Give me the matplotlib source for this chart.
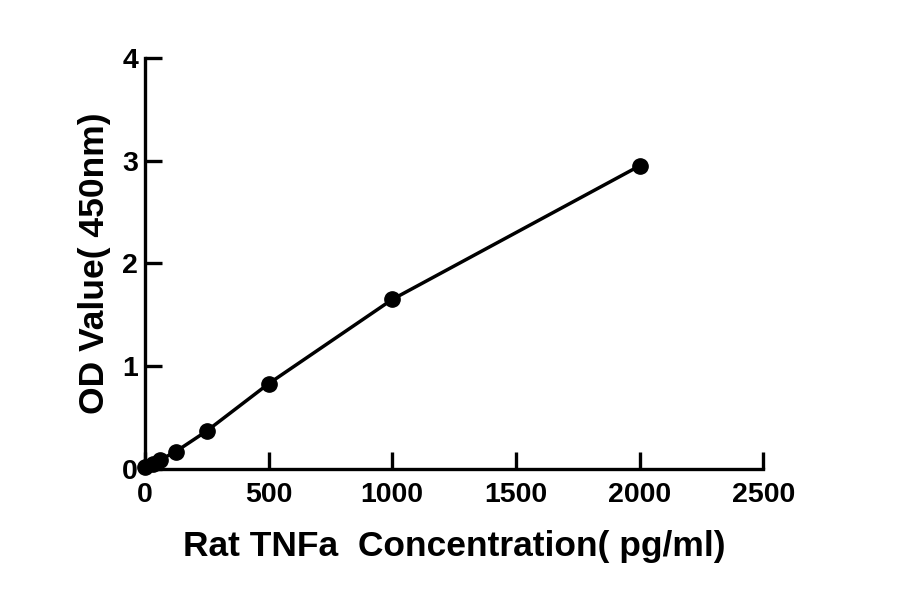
import matplotlib
matplotlib.use("Agg")
import matplotlib.pyplot as plt

concentration = [0, 31.25, 62.5, 125, 250, 500, 1000, 2000]
od_values = [0.02, 0.05, 0.09, 0.17, 0.37, 0.83, 1.65, 2.95]
x_ticks = [0, 500, 1000, 1500, 2000, 2500]
y_ticks = [0, 1, 2, 3, 4]

fam = ['Liberation Sans', 'DejaVu Sans']
plt.rcParams['font.family'] = fam
plt.rcParams['font.weight'] = 'bold'

fig = plt.figure(figsize=(9, 5.94), dpi=100)
ax = fig.add_axes([0.161, 0.2104, 0.687, 0.692])

ax.plot(concentration, od_values, color='black', lw=2.5, marker='o', ms=11,
        clip_on=False, zorder=3)

ax.set_xlim(0, 2500)
ax.set_ylim(0, 4)
ax.set_xticks(x_ticks)
ax.set_yticks(y_ticks)
for s in ['top', 'right']:
    ax.spines[s].set_visible(False)
for s in ['left', 'bottom']:
    ax.spines[s].set_linewidth(2.4)
ax.tick_params(direction='in', length=12, width=2.4, labelsize=20.5)
ax.tick_params(axis='x', pad=9)
ax.tick_params(axis='y', pad=5)
for lab in ax.get_xticklabels() + ax.get_yticklabels():
    lab.set_fontweight('bold')

ax.set_xlabel('Rat TNFa  Concentration( pg/ml)', fontsize=25.5,
              fontweight='bold', labelpad=16)
ax.set_ylabel('OD Value( 450nm)', fontsize=25.5, fontweight='bold',
              labelpad=8)

fig.savefig('out.png', dpi=100, facecolor='white')
